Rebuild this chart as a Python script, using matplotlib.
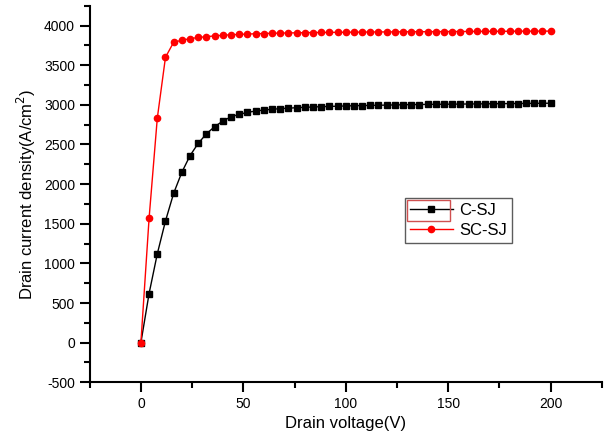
import matplotlib
matplotlib.use("Agg")
from matplotlib import pyplot as plt
from matplotlib.ticker import MultipleLocator
from matplotlib.patches import Rectangle

plt.rcParams['font.family'] = ['Liberation Sans', 'DejaVu Sans']
plt.rcParams['axes.unicode_minus'] = False

# drain voltage, one point every 4 V
voltage = list(range(0, 201, 4))

# current density (A/cm^2)
c_sj = [0, 620, 1120, 1535, 1885, 2150, 2360, 2515, 2635, 2725,
        2795, 2850, 2880, 2905, 2922, 2935, 2944, 2952, 2958, 2964,
        2969, 2973, 2977, 2980, 2983, 2986, 2989, 2991, 2993, 2995,
        2997, 2999, 3001, 3003, 3004, 3006, 3007, 3008, 3009, 3010,
        3011, 3012, 3013, 3014, 3015, 3016, 3017, 3018, 3019, 3020,
        3021]
sc_sj = [0, 1570, 2830, 3600, 3790, 3815, 3835, 3850, 3860, 3870,
         3878, 3884, 3889, 3893, 3897, 3900, 3903, 3905, 3907, 3909,
         3911, 3912, 3913, 3914, 3915, 3916, 3917, 3918, 3919, 3920,
         3920, 3921, 3922, 3922, 3923, 3923, 3924, 3924, 3925, 3925,
         3926, 3926, 3927, 3927, 3928, 3928, 3929, 3929, 3930, 3930,
         3930]

fig = plt.figure(figsize=(6.06, 4.43), dpi=100)
ax = fig.add_axes([0.148, 0.137, 0.845, 0.85])

ax.plot(voltage, c_sj, color='black', lw=1, marker='s', ms=4.5, label='C-SJ')
ax.plot(voltage, sc_sj, color='red', lw=1, marker='o', ms=4.5, label='SC-SJ')

ax.set_xlim(-25, 225)
ax.set_ylim(-500, 4250)
ax.xaxis.set_major_locator(MultipleLocator(50))
ax.xaxis.set_minor_locator(MultipleLocator(25))
ax.yaxis.set_major_locator(MultipleLocator(500))
ax.yaxis.set_minor_locator(MultipleLocator(250))
ax.tick_params(which='major', direction='out', length=7, width=1.5, labelsize=10)
ax.tick_params(which='minor', direction='out', length=4, width=1.5)

for side in ['top', 'right']:
  ax.spines[side].set_visible(False)
for side in ['left', 'bottom']:
  ax.spines[side].set_linewidth(1.5)

ax.set_xlabel('Drain voltage(V)', fontsize=12)
ax.set_ylabel('Drain current density(A/cm$^2$)', fontsize=12)

leg = ax.legend(loc='upper left', bbox_to_anchor=(0.615, 0.49), fontsize=12,
                frameon=True, fancybox=False, edgecolor='#333333',
                handlelength=2.6, borderpad=0.3, labelspacing=0.3,
                handletextpad=0.4, borderaxespad=0)
leg.get_frame().set_linewidth(1)

# red selection box around the first legend handle, as in the original
fig.canvas.draw()
bb = leg.get_window_extent()
x0 = bb.x0 + 2
y1 = bb.y1 - 2
fig.patches.append(Rectangle((x0 / fig.bbox.width, (y1 - 21) / fig.bbox.height),
                             43 / fig.bbox.width, 21 / fig.bbox.height,
                             transform=fig.transFigure, fill=False,
                             edgecolor='#d05050', lw=1))

fig.savefig('out.png', dpi=100)
